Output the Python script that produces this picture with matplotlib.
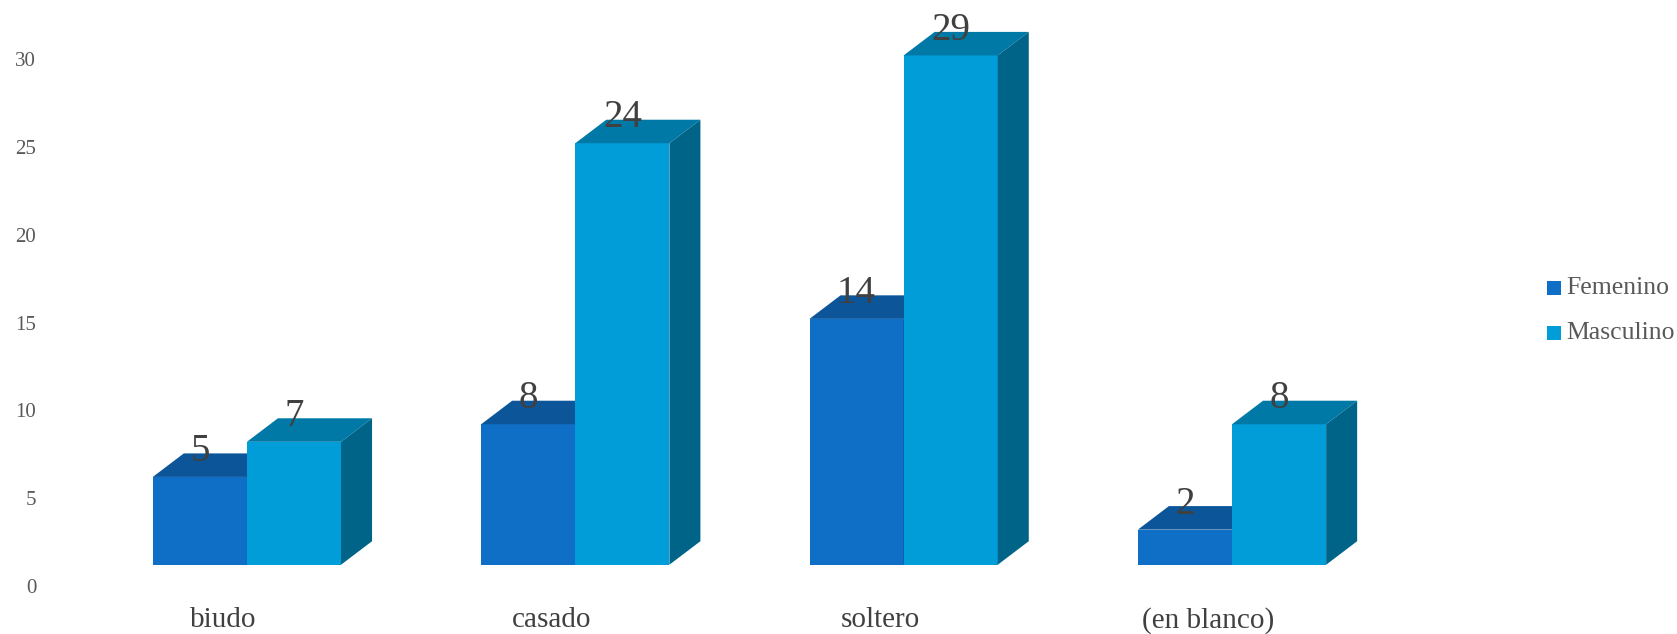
import matplotlib.pyplot as plt
from matplotlib.patches import Polygon, Rectangle

# data
categories = ["biudo", "casado", "soltero", "(en blanco)"]
femenino = [5, 8, 14, 2]
masculino = [7, 24, 29, 8]
series_names = ["Femenino", "Masculino"]
yticks = [0, 5, 10, 15, 20, 25, 30]

# colours: front, top, side
fem_colors = ("#0F6FC6", "#0B5598", "#094A85")
mas_colors = ("#009DD9", "#0079A7", "#006489")

W = 0.2866      # bar width (group spacing = 1)
DX = 0.0945     # depth offset in x
DY = 1.34       # depth offset in y
YB = 1.21       # front face base above the back-wall zero

plt.rcParams['font.family'] = ['Liberation Serif', 'DejaVu Serif']


def draw_bar(ax, x0, v, colors, side=True):
    front, top, sidec = colors
    ax.add_patch(Rectangle((x0, YB), W, v, facecolor=front, edgecolor="none"))
    ax.add_patch(Polygon([(x0, YB + v), (x0 + W, YB + v),
                          (x0 + W + DX, YB + v + DY), (x0 + DX, YB + v + DY)],
                         closed=True, facecolor=top, edgecolor="none"))
    if side:
        ax.add_patch(Polygon([(x0 + W, YB), (x0 + W + DX, YB + DY),
                              (x0 + W + DX, YB + v + DY), (x0 + W, YB + v)],
                             closed=True, facecolor=sidec, edgecolor="none"))


def main():
    fig = plt.figure(figsize=(16.77, 6.34), dpi=100)
    ax = fig.add_axes([64 / 1677, 48 / 634, 1433 / 1677, 562 / 634])
    ax.set_xlim(-0.557, 3.807)
    ax.set_ylim(0, 32)

    for i, (f, m) in enumerate(zip(femenino, masculino)):
        draw_bar(ax, i - W, f, fem_colors)
        draw_bar(ax, i, m, mas_colors)
        ax.text(i - W / 2, f + YB + DY + 0.1, str(f), ha="center", va="center",
                fontsize=28, color="#404040", clip_on=False)
        ax.text(i + W / 2, m + YB + DY + 0.1, str(m), ha="center", va="center",
                fontsize=28, color="#404040", clip_on=False)
        ax.text(i - 0.072, -1.94, categories[i], ha="center", va="center",
                fontsize=21, color="#404040", clip_on=False)

    ax.set_yticks(yticks)
    ax.set_yticklabels([str(t) for t in yticks], fontsize=15, color="#595959")
    ax.tick_params(axis="y", length=0, pad=20)
    ax.set_xticks([])
    for s in ax.spines.values():
        s.set_visible(False)

    # legend drawn by hand at the right
    for k, (name, col) in enumerate(zip(series_names, [fem_colors[0], mas_colors[0]])):
        yp = 1 - (288 + 45 * k) / 634
        fig.patches.append(Rectangle((1547 / 1677, yp - 7 / 634), 14 / 1677, 14 / 634,
                                     transform=fig.transFigure, facecolor=col,
                                     edgecolor="none"))
        fig.text(1566 / 1677, yp, name, ha="left", va="center", fontsize=18.5,
                 color="#595959")

    fig.savefig("out.png", dpi=100)


if __name__ == "__main__":
    main()
